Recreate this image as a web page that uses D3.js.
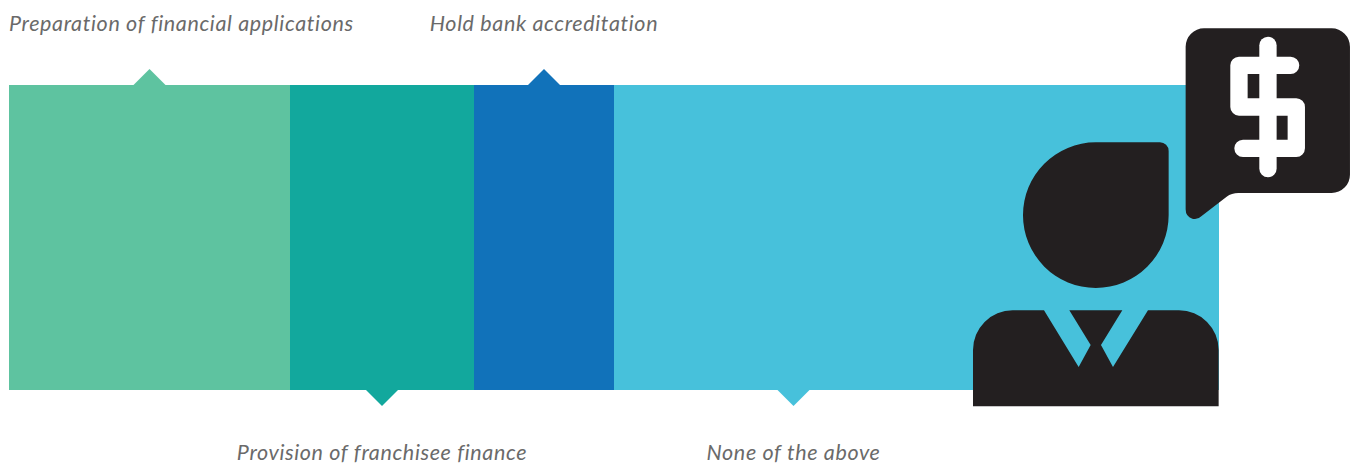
<!DOCTYPE html>
<html>
<head>
<meta charset="utf-8">
<script src="https://cdn.jsdelivr.net/npm/d3@7/dist/d3.min.js"></script>
<style>
  html, body { margin: 0; padding: 0; background: #fff; }
  svg { display: block; }
  .label { font-family: Lato, "Open Sans", sans-serif; font-style: italic; font-size: 21.5px; letter-spacing: 0.64px; fill: #6a6a6a; }
</style>
</head>
<body>
<svg id="chart" width="1359" height="465"></svg>
<script>
// Share of respondents per category, in percent
const categories = [
  "Preparation of financial applications",
  "Provision of franchisee finance",
  "Hold bank accreditation",
  "None of the above"
];
const values = [23.2, 15.2, 11.6, 50.0];
const colours = ["#5EC3A0", "#12A89D", "#1172BA", "#47C1DB"];
const sides = ["top", "bottom", "top", "bottom"];

const barLeft = 9, barRight = 1219, barTop = 85, barBottom = 390;
const pointerHalf = 16, pointerHeight = 16;
const iconLeft = 973;

const svg = d3.select("#chart");
const x = d3.scaleLinear().domain([0, d3.sum(values)]).rangeRound([barLeft, barRight]);

// Stack the values into consecutive spans
let running = 0;
const spans = values.map((v, i) => {
  const span = { name: categories[i], start: running, end: running + v, colour: colours[i], side: sides[i] };
  running += v;
  return span;
});

// Pointers sit at the middle of the part of each span the figure does not cover
const centre = d => (x(d.start) + Math.min(x(d.end), iconLeft)) / 2;

svg.selectAll("rect.segment").data(spans).join("rect")
  .attr("class", "segment")
  .attr("x", d => x(d.start))
  .attr("y", barTop)
  .attr("width", d => x(d.end) - x(d.start))
  .attr("height", barBottom - barTop)
  .attr("fill", d => d.colour);

svg.selectAll("path.pointer").data(spans).join("path")
  .attr("class", "pointer")
  .attr("fill", d => d.colour)
  .attr("d", d => {
    const c = centre(d);
    const base = d.side === "top" ? barTop : barBottom;
    const tip = d.side === "top" ? barTop - pointerHeight : barBottom + pointerHeight;
    return d3.line()([[c - pointerHalf, base], [c, tip], [c + pointerHalf, base]]) + "Z";
  });

svg.selectAll("text.label").data(spans).join("text")
  .attr("class", "label")
  .attr("x", (d, i) => i === 0 ? barLeft : centre(d))
  .attr("y", d => d.side === "top" ? 31 : 460)
  .attr("text-anchor", (d, i) => i === 0 ? "start" : "middle")
  .text(d => d.name);

// Figure with speech bubble, drawn at triple size and scaled down
const icon = svg.append("g").attr("transform", "translate(960,10) scale(0.3333)");
const ink = "#231F20";

icon.append("path").attr("fill", ink).attr("d",
  "M677 110 A55 55 0 0 1 732 55 L1115 55 A55 55 0 0 1 1170 110 L1170 494 A55 55 0 0 1 1115 549 " +
  "L835 549 Q815 549 800 560 L725 618 Q712 631 697 626 Q677 620 677 598 Z");

const dollar = icon.append("g").attr("fill", "none").attr("stroke", "#fff")
  .attr("stroke-width", 52).attr("stroke-linecap", "round").attr("stroke-linejoin", "round");
dollar.append("path").attr("d", "M924 106 L924 476");
dollar.append("path").attr("d", "M992 166 L837 166 L837 291 L1009 291 L1009 415 L849 415");

icon.append("path").attr("fill", ink).attr("d",
  "M407 397 L600 397 A26 26 0 0 1 626 423 L626 616 A218.5 218.5 0 1 1 407 397 Z");

icon.append("path").attr("fill", ink).attr("d",
  "M39 1189 L39 1020 A119 119 0 0 1 158 901 L252 901 L356 1071 L392 1005 L328 901 L487 901 " +
  "L423 1005 L459 1071 L564 901 L657 901 A119 119 0 0 1 776 1020 L776 1189 Z");
</script>
</body>
</html>
